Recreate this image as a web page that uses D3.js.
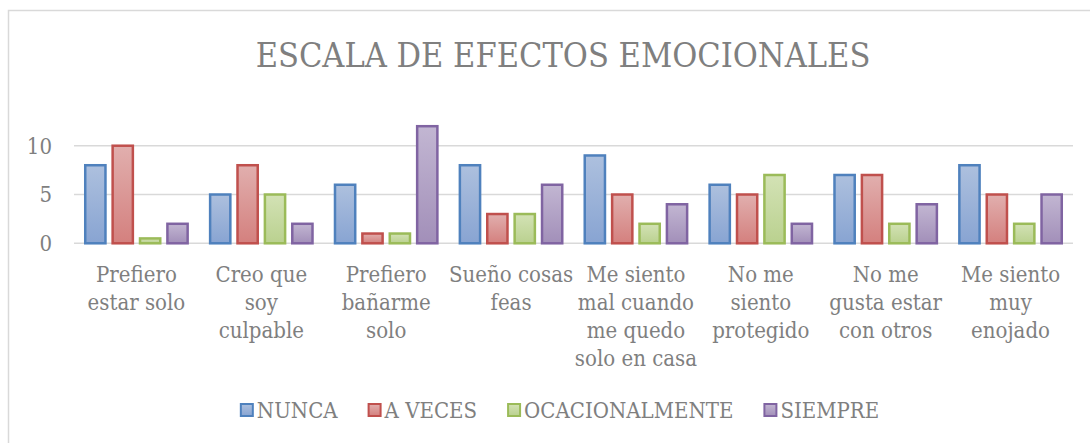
<!DOCTYPE html>
<html>
<head>
<meta charset="utf-8">
<script src="https://cdn.jsdelivr.net/npm/d3@7"></script>
<style>
  body { margin: 0; background: #fff; }
  svg text { font-family: "DejaVu Serif Condensed", "DejaVu Serif", serif; font-stretch: condensed; fill: #7f7f7f; }
</style>
</head>
<body>
<svg width="1090" height="443"></svg>
<script>
var categories = [
  "Prefiero\nestar solo",
  "Creo que\nsoy\nculpable",
  "Prefiero\nbañarme\nsolo",
  "Sueño cosas\nfeas",
  "Me siento\nmal cuando\nme quedo\nsolo en casa",
  "No me\nsiento\nprotegido",
  "No me\ngusta estar\ncon otros",
  "Me siento\nmuy\nenojado"
];
var seriesNames = ["NUNCA", "A VECES", "OCACIONALMENTE", "SIEMPRE"];
var nunca = [8, 5, 6, 8, 9, 6, 7, 8];
var aVeces = [10, 8, 1, 3, 5, 5, 7, 5];
var ocasionalmente = [0.5, 5, 1, 3, 2, 7, 2, 2];
var siempre = [2, 2, 12, 6, 4, 2, 4, 5];
var yTicks = [0, 5, 10];

var seriesValues = [nunca, aVeces, ocasionalmente, siempre];
var strokes = ["#4f81bd", "#c0504d", "#9bbb59", "#8064a2"];
var topFill = ["#adc0de", "#e1afae", "#d3e2b5", "#c2b6d2"];
var botFill = ["#88a4d2", "#d4807e", "#bad18f", "#a28fb9"];

var svg = d3.select("svg");

// chart frame
svg.append("rect")
    .attr("x", 8.5)
    .attr("y", 10.5)
    .attr("width", 1200)
    .attr("height", 600)
    .attr("fill", "none")
    .attr("stroke", "#d9d9d9")
    .attr("stroke-width", 1.5);

var defs = svg.append("defs");
seriesNames.forEach(function(s, i) {
  var g = defs.append("linearGradient")
      .attr("id", "grad" + i)
      .attr("x1", 0).attr("y1", 0).attr("x2", 0).attr("y2", 1);
  g.append("stop").attr("offset", "0%").attr("stop-color", topFill[i]);
  g.append("stop").attr("offset", "100%").attr("stop-color", botFill[i]);
});

svg.append("text")
    .attr("x", 563)
    .attr("y", 67)
    .attr("text-anchor", "middle")
    .style("font-size", "34px")
    .text("ESCALA DE EFECTOS EMOCIONALES");

var x0 = d3.scaleBand()
    .domain(categories)
    .range([74, 1073])
    .paddingInner(0.16)
    .paddingOuter(0.08);

var x1 = d3.scaleBand()
    .domain(seriesNames)
    .range([0, x0.bandwidth()])
    .paddingInner(0.17);

var y = d3.scaleLinear()
    .domain([0, 12])
    .range([243.3, 126.2]);

// gridlines
svg.append("g")
  .selectAll("line")
  .data(yTicks)
  .join("line")
    .attr("x1", 74)
    .attr("x2", 1073)
    .attr("y1", function(d) { return y(d); })
    .attr("y2", function(d) { return y(d); })
    .attr("stroke", "#d9d9d9")
    .attr("stroke-width", 1.5);

// y tick labels
svg.append("g")
  .selectAll("text")
  .data(yTicks)
  .join("text")
    .attr("x", 52)
    .attr("y", function(d) { return y(d); })
    .attr("dy", "0.36em")
    .attr("text-anchor", "end")
    .style("font-size", "22px")
    .text(function(d) { return d; });

// bars
var groups = svg.append("g")
  .selectAll("g")
  .data(categories)
  .join("g")
    .attr("transform", function(d) { return "translate(" + x0(d) + ",0)"; });

groups.selectAll("rect")
  .data(function(d, ci) {
    return seriesNames.map(function(s, si) { return { s: s, si: si, v: seriesValues[si][ci] }; });
  })
  .join("rect")
    .attr("x", function(d) { return x1(d.s) + 1.25; })
    .attr("y", function(d) { return y(d.v); })
    .attr("width", x1.bandwidth() - 2.5)
    .attr("height", function(d) { return y(0) - y(d.v); })
    .attr("fill", function(d) { return "url(#grad" + d.si + ")"; })
    .attr("stroke", function(d) { return strokes[d.si]; })
    .attr("stroke-width", 2.5);

// category labels
svg.append("g")
  .selectAll("text")
  .data(categories)
  .join("text")
    .attr("text-anchor", "middle")
    .style("font-size", "22px")
    .each(function(d) {
      var t = d3.select(this);
      var cx = x0(d) + x0.bandwidth() / 2;
      d.split("\n").forEach(function(line, i) {
        t.append("tspan")
          .attr("x", cx)
          .attr("y", 282 + i * 28)
          .text(line);
      });
    });

// legend
var legend = svg.append("g");
var items = legend.selectAll("g")
  .data(seriesNames)
  .join("g");
items.append("rect")
    .attr("width", 12)
    .attr("height", 12)
    .attr("y", 404)
    .attr("fill", function(d, i) { return "url(#grad" + i + ")"; })
    .attr("stroke", function(d, i) { return strokes[i]; })
    .attr("stroke-width", 2);
items.append("text")
    .attr("x", 16)
    .attr("y", 418)
    .style("font-size", "22px")
    .text(function(d) { return d; });

var widths = [];
items.select("text").each(function() { widths.push(this.getComputedTextLength() + 16); });
var gap = 31;
var total = d3.sum(widths) + gap * (widths.length - 1);
var pos = 560 - total / 2;
items.attr("transform", function(d, i) {
  var p = pos;
  pos += widths[i] + gap;
  return "translate(" + p + ",0)";
});
</script>
</body>
</html>
